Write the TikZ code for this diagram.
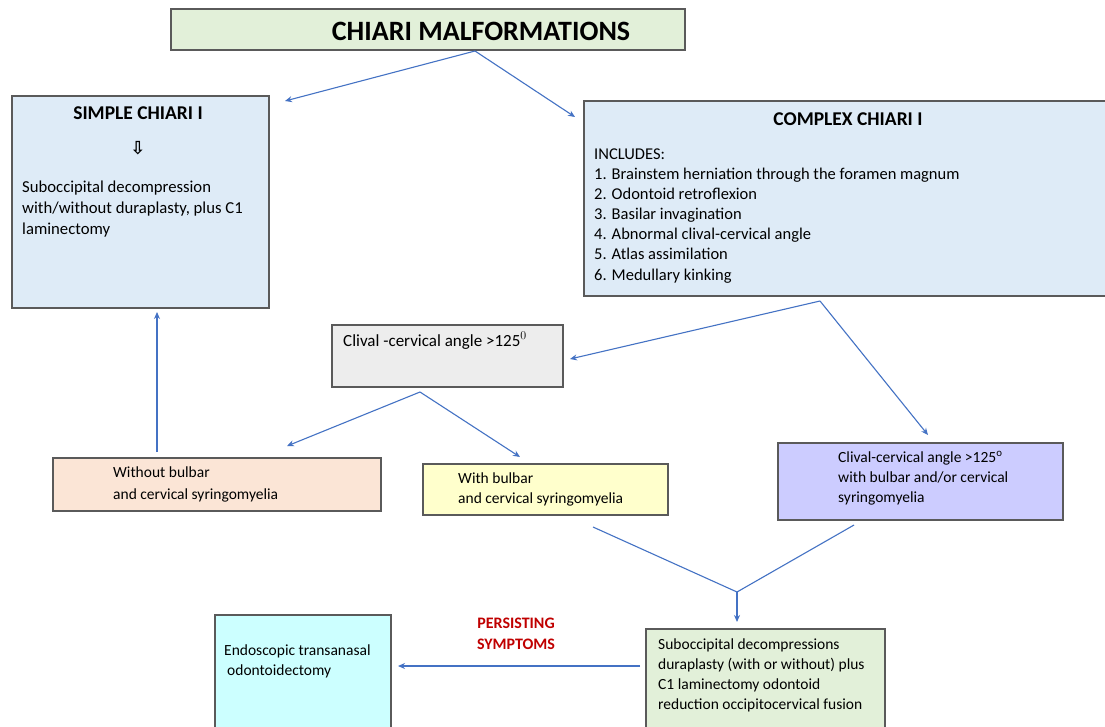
\documentclass[tikz,border=0pt]{standalone}
\usepackage{fontspec}
\setmainfont{Carlito}
\newfontfamily\symfont{DejaVu Sans}
\usetikzlibrary{arrows.meta}
\definecolor{arrowblue}{HTML}{4472C4}
\definecolor{bordergray}{HTML}{5A5A5A}
\definecolor{titlegreen}{HTML}{E2F0D9}
\definecolor{paleblue}{HTML}{DEEBF7}
\definecolor{palegray}{HTML}{EDEDED}
\definecolor{palepeach}{HTML}{FBE5D6}
\definecolor{paleyellow}{HTML}{FFFFCC}
\definecolor{palepurple}{HTML}{CCCCFF}
\definecolor{palecyan}{HTML}{CCFFFF}
\definecolor{darkred}{HTML}{C00000}
\tikzset{
  boxshape/.style={draw=bordergray, line width=1.5pt, rectangle, inner sep=0pt, anchor=north west},
  arr/.style={draw=arrowblue, line width=1.1pt, -{Stealth[length=7pt,width=6pt]}},
  plainline/.style={draw=arrowblue, line width=1.1pt},
  bigtxt/.style={inner sep=0pt, anchor=base west, font=\fontsize{16.7}{20}\selectfont, text=black},
  txt/.style={inner sep=0pt, anchor=base west, font=\fontsize{16.5}{20}\selectfont, text=black},
  smalltxt/.style={inner sep=0pt, anchor=base west, font=\fontsize{15.5}{19}\selectfont, text=black},
  headtxt/.style={inner sep=0pt, anchor=base, font=\bfseries\fontsize{19.5}{23}\selectfont, text=black},
  redtxt/.style={inner sep=0pt, anchor=base, font=\bfseries\fontsize{16}{19}\selectfont, text=darkred},
}
\begin{document}
\begin{tikzpicture}[x=1pt,y=-1pt]
\useasboundingbox (0,0) rectangle (1105,726);
\clip (0,0) rectangle (1105,726);
\fill[white] (0,0) rectangle (1105,726);

% boxes
\node[boxshape, fill=titlegreen, minimum width=514pt, minimum height=41pt] (title) at (170,8) {};
\node[boxshape, fill=paleblue, minimum width=257pt, minimum height=212pt] (simple) at (11,95) {};
\node[boxshape, fill=paleblue, minimum width=540pt, minimum height=195pt] (complex) at (583,100) {};
\node[boxshape, fill=palegray, minimum width=231pt, minimum height=62pt] (clival) at (331,324) {};
\node[boxshape, fill=palepeach, minimum width=328pt, minimum height=53pt] (without) at (52,457) {};
\node[boxshape, fill=paleyellow, minimum width=245pt, minimum height=51pt] (with) at (422,463) {};
\node[boxshape, fill=palepurple, minimum width=285pt, minimum height=77pt] (purple) at (777,442) {};
\node[boxshape, fill=titlegreen, minimum width=239pt, minimum height=120pt] (surgery) at (645,628) {};
\node[boxshape, fill=palecyan, minimum width=176pt, minimum height=130pt] (endo) at (214,614) {};

% texts
\node[inner sep=0pt, anchor=base, font=\bfseries\fontsize{28}{32}\selectfont] (titletext) at (481,40) {CHIARI MALFORMATIONS};

\node[headtxt] (simplehead) at (138,119) {SIMPLE CHIARI I};
\node[inner sep=0pt, font=\symfont\bfseries\fontsize{18}{20}\selectfont] (simplearrow) at (138,148) {⇩};
\foreach \t [count=\i from 0] in {Suboccipital decompression,{with/without duraplasty, plus C1},laminectomy}
  \node[bigtxt] (simple-l\i) at (22,192+21*\i) {\t};

\node[headtxt] (complexhead) at (848,125) {COMPLEX CHIARI I};
\foreach \t [count=\i from 0] in {INCLUDES:,1. Brainstem herniation through the foramen magnum,2. Odontoid retroflexion,3. Basilar invagination,4. Abnormal clival-cervical angle,5. Atlas assimilation,6. Medullary kinking}
  \node[txt] (complex-l\i) at (594,159+20.17*\i) {\t};

\node[inner sep=0pt, anchor=base west, font=\fontsize{17}{20}\selectfont] (clivaltext) at (343,346) {Clival -cervical angle >125$^{0}$};

\foreach \t [count=\i from 0] in {Without bulbar,and cervical syringomyelia}
  \node[smalltxt] (without-l\i) at (113,477+22*\i) {\t};
\foreach \t [count=\i from 0] in {With bulbar,and cervical syringomyelia}
  \node[smalltxt] (with-l\i) at (458,483+20*\i) {\t};
\foreach \t [count=\i from 0] in {Clival-cervical angle >125\textsuperscript{o},with bulbar and/or cervical,syringomyelia}
  \node[smalltxt] (purple-l\i) at (838,462+20*\i) {\t};
\foreach \t [count=\i from 0] in {Suboccipital decompressions,duraplasty (with or without) plus,C1 laminectomy odontoid,reduction occipitocervical fusion}
  \node[smalltxt] (surgery-l\i) at (658,649+20.3*\i) {\t};
\node[smalltxt] (endo-l0) at (224,655) {Endoscopic transanasal};
\node[smalltxt] (endo-l1) at (227,675) {odontoidectomy};

\node[redtxt] (persist1) at (516,628) {PERSISTING};
\node[redtxt] (persist2) at (516,649) {SYMPTOMS};

% connector coordinates
\coordinate (tsplit) at (475,51);
\coordinate (simplein) at (285,101);
\coordinate (complexin) at (575,117);
\coordinate (csplit) at (820,301);
\coordinate (clivalin) at (570,359);
\coordinate (purplein) at (928,435);
\coordinate (vsplit) at (420,392);
\coordinate (withoutin) at (287,446);
\coordinate (within) at (520,457);
\coordinate (withoutout) at (157,452);
\coordinate (simpleback) at (157,312);
\coordinate (without2) at (593,527);
\coordinate (purpleout) at (854,525);
\coordinate (merge) at (737,592);
\coordinate (surgeryin) at (737,622);
\coordinate (surgeryout) at (640,666);
\coordinate (endoin) at (398,666);

\draw[arr] (tsplit) -- (simplein);
\draw[arr] (tsplit) -- (complexin);
\draw[arr] (csplit) -- (clivalin);
\draw[arr] (csplit) -- (purplein);
\draw[arr] (vsplit) -- (withoutin);
\draw[arr] (vsplit) -- (within);
\draw[arr] (withoutout) -- (simpleback);
\draw[plainline] (without2) -- (merge);
\draw[plainline] (purpleout) -- (merge);
\draw[arr] (merge) -- (surgeryin);
\draw[arr] (surgeryout) -- (endoin);
\end{tikzpicture}
\end{document}
